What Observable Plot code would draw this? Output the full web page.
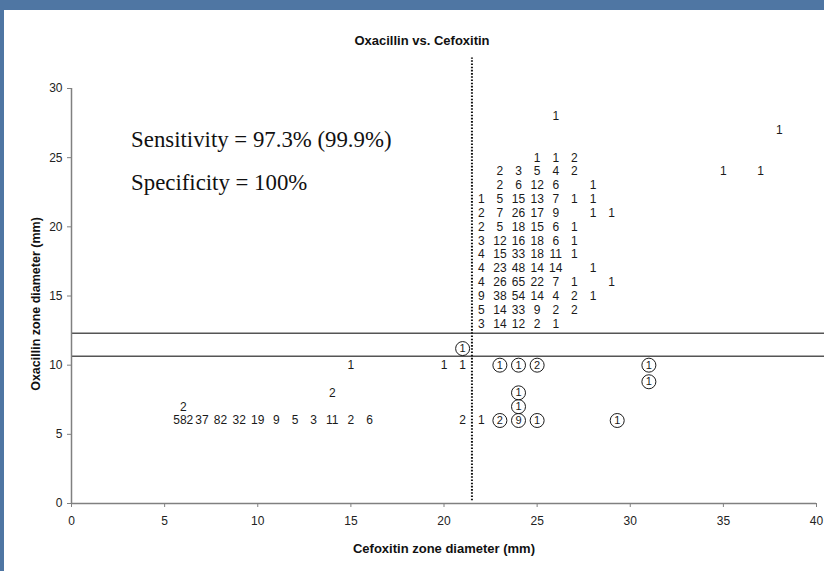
<!DOCTYPE html>
<html>
<head>
<meta charset="utf-8">
<script src="https://cdn.jsdelivr.net/npm/d3@7"></script>
<script src="https://cdn.jsdelivr.net/npm/@observablehq/plot@0.6"></script>
<style>
  body { margin: 0; background: #fff; }
  #frame { position: relative; width: 824px; height: 571px; background: #4f76a3; overflow: hidden; }
  #inner { position: absolute; left: 4px; top: 10px; width: 820px; height: 561px; background: #fff; }
  #inner svg { overflow: visible; }
</style>
</head>
<body>
<div id="frame"><div id="inner"></div></div>
<script>
// Plain count labels: cefoxitin zone (x), oxacillin zone (y), count
const plainX = [
  26,
  38,
  25, 26, 27,
  23, 24, 25, 26, 27, 35, 37,
  23, 24, 25, 26, 28,
  22, 23, 24, 25, 26, 27, 28,
  22, 23, 24, 25, 26, 28, 29,
  22, 23, 24, 25, 26, 27,
  22, 23, 24, 25, 26, 27,
  22, 23, 24, 25, 26, 27,
  22, 23, 24, 25, 26, 28,
  22, 23, 24, 25, 26, 27, 29,
  22, 23, 24, 25, 26, 27, 28,
  22, 23, 24, 25, 26, 27,
  22, 23, 24, 25, 26,
  15, 20, 21,
  14,
  6,
  6, 7, 8, 9, 10, 11, 12, 13, 14, 15, 16, 21, 22
];
const plainY = [
  28,
  27,
  25, 25, 25,
  24, 24, 24, 24, 24, 24, 24,
  23, 23, 23, 23, 23,
  22, 22, 22, 22, 22, 22, 22,
  21, 21, 21, 21, 21, 21, 21,
  20, 20, 20, 20, 20, 20,
  19, 19, 19, 19, 19, 19,
  18, 18, 18, 18, 18, 18,
  17, 17, 17, 17, 17, 17,
  16, 16, 16, 16, 16, 16, 16,
  15, 15, 15, 15, 15, 15, 15,
  14, 14, 14, 14, 14, 14,
  13, 13, 13, 13, 13,
  10, 10, 10,
  8,
  7,
  6, 6, 6, 6, 6, 6, 6, 6, 6, 6, 6, 6, 6
];
const plainN = [
  1,
  1,
  1, 1, 2,
  2, 3, 5, 4, 2, 1, 1,
  2, 6, 12, 6, 1,
  1, 5, 15, 13, 7, 1, 1,
  2, 7, 26, 17, 9, 1, 1,
  2, 5, 18, 15, 6, 1,
  3, 12, 16, 18, 6, 1,
  4, 15, 33, 18, 11, 1,
  4, 23, 48, 14, 14, 1,
  4, 26, 65, 22, 7, 1, 1,
  9, 38, 54, 14, 4, 2, 1,
  5, 14, 33, 9, 2, 2,
  3, 14, 12, 2, 1,
  1, 1, 1,
  2,
  2,
  582, 37, 82, 32, 19, 9, 5, 3, 11, 2, 6, 2, 1
];

// Circled (discrepant) counts
const circX = [21, 23, 24, 25, 31, 31, 24, 24, 23, 24, 25, 29.3];
const circY = [11.2, 10, 10, 10, 10, 8.8, 8, 7, 6, 6, 6, 6];
const circN = [1, 1, 1, 2, 1, 1, 1, 1, 2, 9, 1, 1];

// Breakpoint lines
const hLines = [12.3, 10.65];
const vLine = [21.5];

// Axis ticks
const xTicks = [0, 5, 10, 15, 20, 25, 30, 35, 40];
const yTicks = [0, 5, 10, 15, 20, 25, 30];

// Annotation text
const notes = ["Sensitivity = 97.3% (99.9%)", "Specificity = 100%"];
const noteY = [26.3, 23.2];

const titleText = "Oxacillin vs. Cefoxitin";
const xLabel = "Cefoxitin zone diameter (mm)";
const yLabel = "Oxacillin zone diameter (mm)";

const sans = "'Liberation Sans', Arial, Helvetica, sans-serif";
const pIdx = plainX.map((_, i) => i);
const cIdx = circX.map((_, i) => i);

const chart = Plot.plot({
  width: 820,
  height: 561,
  marginLeft: 67,
  marginRight: 8,
  marginTop: 78,
  marginBottom: 68,
  x: {domain: [0, 40], axis: null},
  y: {domain: [0, 30], axis: null},
  style: {fontFamily: sans, background: "white", overflow: "visible"},
  marks: [
    Plot.ruleY(hLines, {x1: 0, x2: 40.6, stroke: "#555", strokeWidth: 1.5}),
    Plot.ruleX([0], {y1: 0, y2: 30, stroke: "#808080", strokeWidth: 1.5}),
    Plot.ruleY([0], {x1: 0, x2: 40, stroke: "#808080", strokeWidth: 1.5}),
    Plot.axisX({ticks: xTicks, tickSize: 4, tickPadding: 9, fontSize: 12, stroke: "#808080", fill: "#222", label: null, tickFormat: d => String(d)}),
    Plot.axisY({ticks: yTicks, tickSize: 4, tickPadding: 5, fontSize: 12, stroke: "#808080", fill: "#222", label: null, tickFormat: d => String(d)}),
    Plot.ruleX(vLine, {y1: 0.2, y2: 32.2, stroke: "#111", strokeWidth: 2, strokeDasharray: "1.6,1.6"}),
    Plot.text(pIdx, {x: i => plainX[i], y: i => plainY[i], text: i => String(plainN[i]), fontSize: 12, fill: "#1a1a1a"}),
    Plot.dot(cIdx, {x: i => circX[i], y: i => circY[i], r: 7, stroke: "#1a1a1a", strokeWidth: 1, fill: "none"}),
    Plot.text(cIdx, {x: i => circX[i], y: i => circY[i], text: i => String(circN[i]), fontSize: 11, fill: "#1a1a1a"}),
    Plot.text(notes, {x: 3.2, y: (d, i) => noteY[i], text: d => d, textAnchor: "start", fontFamily: "'Liberation Serif', 'Times New Roman', serif", fontSize: 22.8, fill: "#111"}),
    Plot.text([titleText], {frameAnchor: "top", dx: -22, dy: -53, text: d => d, fontWeight: "bold", fontSize: 13, fill: "#111"}),
    Plot.text([xLabel], {frameAnchor: "bottom", dy: 49, text: d => d, fontWeight: "bold", fontSize: 13, fill: "#111"}),
    Plot.text([yLabel], {frameAnchor: "left", dx: -36, dy: 8, rotate: -90, textAnchor: "middle", lineAnchor: "middle", text: d => d, fontWeight: "bold", fontSize: 12.5, fill: "#111"})
  ]
});
document.getElementById("inner").appendChild(chart);
</script>
</body>
</html>
